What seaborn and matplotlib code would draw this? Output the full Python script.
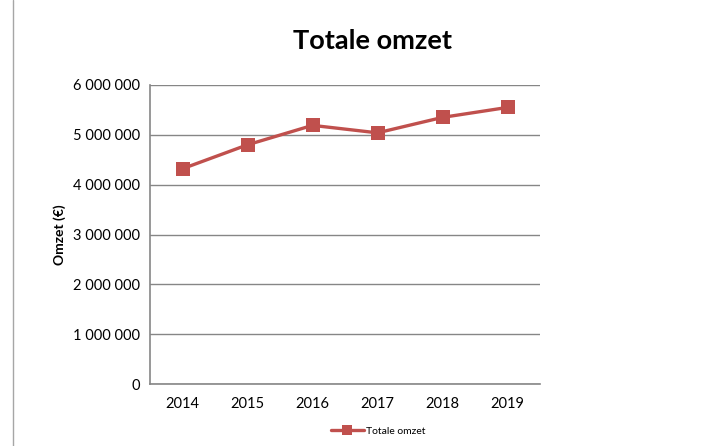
import pandas as pd
import seaborn as sns
import matplotlib.pyplot as plt
from matplotlib.lines import Line2D
from matplotlib.ticker import FixedLocator, FuncFormatter

years = ["2014", "2015", "2016", "2017", "2018", "2019"]
omzet = [4320000, 4800000, 5190000, 5040000, 5350000, 5550000]
y_ticks = [0, 1000000, 2000000, 3000000, 4000000, 5000000, 6000000]

df = pd.DataFrame({"jaar": years, "omzet": omzet})

red = "#C0504D"
grid_grey = "#868686"

sns.set_style("white")
plt.rcParams["font.family"] = ["Lato", "DejaVu Sans"]
plt.rcParams["text.color"] = "black"
plt.rcParams["axes.labelcolor"] = "black"
plt.rcParams["xtick.color"] = "black"
plt.rcParams["ytick.color"] = "black"

fig = plt.figure(figsize=(7.28, 4.46), dpi=100)
ax = fig.add_axes([150 / 728, 1 - 384 / 446, 390 / 728, 299 / 446])

sns.lineplot(data=df, x="jaar", y="omzet", color=red, linewidth=2.4,
             marker="s", markersize=10, markeredgewidth=0,
             label="Totale omzet", ax=ax)

ax.set_xlim(-0.5, len(years) - 0.5)
ax.set_ylim(0, 6000000)

# category axis: tick marks between categories, labels in the middle
ax.xaxis.set_major_locator(FixedLocator([i - 0.5 for i in range(len(years) + 1)]))
ax.xaxis.set_minor_locator(FixedLocator(list(range(len(years)))))
ax.set_xticklabels([], minor=False)
ax.set_xticklabels(years, minor=True)
ax.tick_params(axis="x", which="major", length=5, width=1, color=grid_grey, direction="out")
ax.tick_params(axis="x", which="minor", length=0, pad=9, labelsize=10.5)

ax.set_yticks(y_ticks)
ax.yaxis.set_major_formatter(FuncFormatter(lambda v, p: f"{v:,.0f}".replace(",", " ")))
ax.tick_params(axis="y", length=5, width=1, color=grid_grey, direction="out", pad=2, labelsize=10.5)

ax.grid(axis="y", color=grid_grey, linewidth=1)
ax.grid(axis="x", visible=False)
ax.set_axisbelow(True)

for side in ["top", "right"]:
    ax.spines[side].set_visible(False)
for side in ["left", "bottom"]:
    ax.spines[side].set_color(grid_grey)
    ax.spines[side].set_linewidth(1.2)

ax.set_xlabel("")
ax.set_ylabel("Omzet (€)", fontsize=10, fontweight="bold", labelpad=5)

fig.suptitle("Totale omzet", x=373 / 728, y=1 - 29 / 446, fontsize=19.5, fontweight="bold")

leg = ax.legend(loc="center", bbox_to_anchor=(378 / 728, 1 - 431 / 446),
                bbox_transform=fig.transFigure, frameon=False, fontsize=7.5,
                handlelength=3.2, handletextpad=0.2)
for h in leg.legend_handles:
    h.set_markersize(6.5)

# left frame line
fig.add_artist(Line2D([13 / 728, 13 / 728], [0, 1], color="#a6a6a6", linewidth=1))

fig.savefig("out.png", dpi=100)
